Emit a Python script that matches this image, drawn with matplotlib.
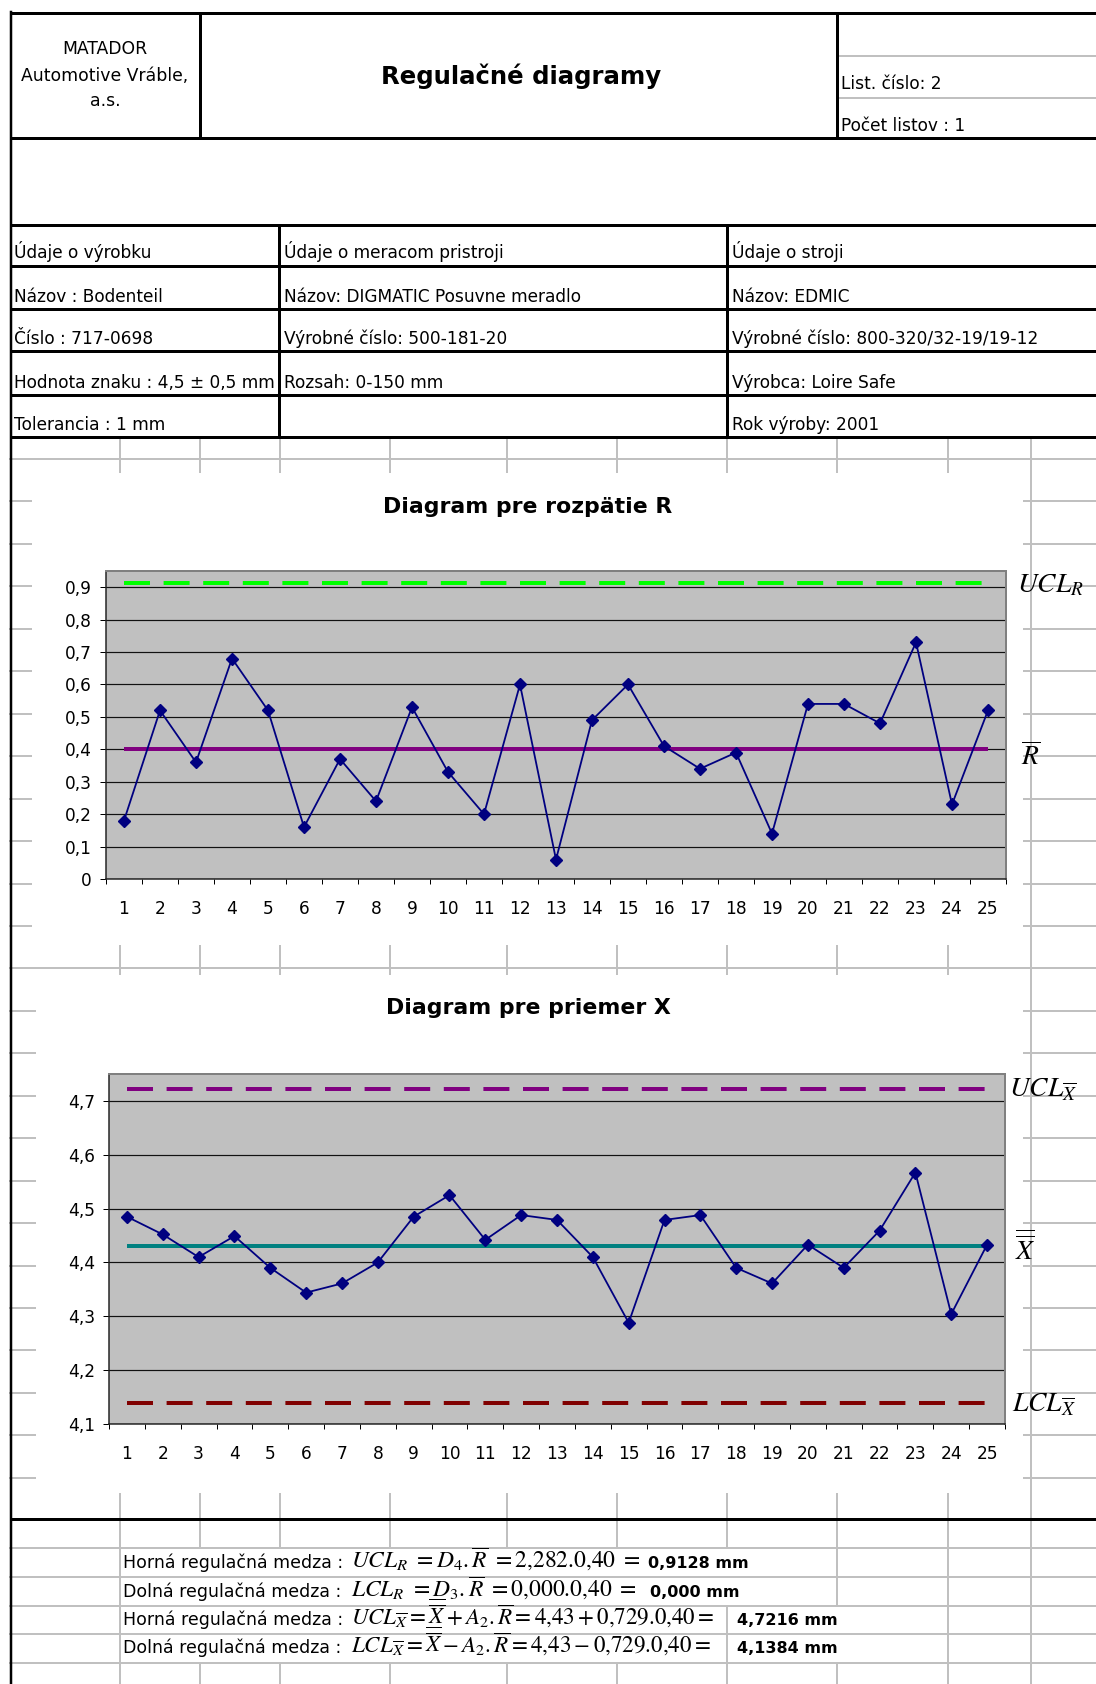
"""Control charts (R chart and X-bar chart) laid out like the Excel sheet."""

import matplotlib
matplotlib.use("Agg")
import matplotlib.pyplot as plt
import numpy as np
from matplotlib.patches import Rectangle

W, H = 1096, 1684
PT = 0.72  # points per pixel at 100 dpi

# ---- chart data -------------------------------------------------------------
SAMPLES = list(range(1, 26))
R_VALUES = [0.18, 0.52, 0.36, 0.68, 0.52, 0.16, 0.37, 0.24, 0.53, 0.33, 0.20, 0.60, 0.06,
            0.49, 0.60, 0.41, 0.34, 0.39, 0.14, 0.54, 0.54, 0.48, 0.73, 0.23, 0.52]
R_BAR, UCL_R = 0.40, 0.9128
X_VALUES = [4.485, 4.452, 4.410, 4.449, 4.390, 4.344, 4.361, 4.400, 4.485, 4.525, 4.442,
            4.488, 4.479, 4.410, 4.288, 4.479, 4.488, 4.390, 4.361, 4.433, 4.390, 4.459,
            4.567, 4.304, 4.433]
X_BARBAR, UCL_X, LCL_X = 4.43, 4.7216, 4.1384

R_TICKS = [0, 0.1, 0.2, 0.3, 0.4, 0.5, 0.6, 0.7, 0.8, 0.9]
R_TICK_LABELS = ["0", "0,1", "0,2", "0,3", "0,4", "0,5", "0,6", "0,7", "0,8", "0,9"]
X_TICKS = [4.1, 4.2, 4.3, 4.4, 4.5, 4.6, 4.7]
X_TICK_LABELS = ["4,1", "4,2", "4,3", "4,4", "4,5", "4,6", "4,7"]

# ---- sheet texts ------------------------------------------------------------
COMPANY = ["MATADOR", "Automotive Vráble,", "a.s."]
TITLE = "Regulačné diagramy"
SHEET = ["List. číslo: 2", "Počet listov : 1"]
TABLE = [
    ["Údaje o výrobku", "Údaje o meracom pristroji", "Údaje o stroji"],
    ["Názov : Bodenteil", "Názov: DIGMATIC Posuvne meradlo", "Názov: EDMIC"],
    ["Číslo : 717-0698", "Výrobné číslo: 500-181-20", "Výrobné číslo: 800-320/32-19/19-12"],
    ["Hodnota znaku : 4,5 ± 0,5 mm", "Rozsah: 0-150 mm", "Výrobca: Loire Safe"],
    ["Tolerancia : 1 mm", "", "Rok výroby: 2001"],
]
FORMULA_LABELS = ["Horná regulačná medza :", "Dolná regulačná medza :",
                  "Horná regulačná medza :", "Dolná regulačná medza :"]
FORMULAS = [
    r"$UCL_R\ =D_4.\overline{R}\ =2{,}282.0{,}40\ =$",
    r"$LCL_R\ =D_3.\overline{R}\ =0{,}000.0{,}40\ =$",
    r"$UCL_{\overline{X}}=\overline{\overline{X}}+A_2.\overline{R}=4{,}43+0{,}729.0{,}40=$",
    r"$LCL_{\overline{X}}=\overline{\overline{X}}-A_2.\overline{R}=4{,}43-0{,}729.0{,}40=$",
]
RESULTS = ["0,9128 mm", "0,000 mm", "4,7216 mm", "4,1384 mm"]

INK = "black"
GRID = "#c0c0c0"
NAVY = "#000080"

plt.rcParams.update({
    "font.family": "DejaVu Sans",
    "mathtext.fontset": "stix",
    "figure.facecolor": "white",
})

fig = plt.figure(figsize=(W / 100, H / 100), dpi=100)
bg = fig.add_axes([0, 0, 1, 1])
bg.set_xlim(0, W)
bg.set_ylim(H, 0)
bg.axis("off")

# ---- spreadsheet grid -------------------------------------------------------
COLS = [120, 200, 280, 390, 507, 617, 727, 837, 948, 1031]
rows = 459 + 42.45 * np.arange(25)
for y in rows:
    bg.plot([10, W], [y, y], color=GRID, lw=2 * PT, zorder=1)
for y in [1548, 1577, 1606, 1634, 1663]:
    bg.plot([10, W], [y, y], color=GRID, lw=2 * PT, zorder=1)
for x in COLS:
    bg.plot([x, x], [437, 1548], color=GRID, lw=2 * PT, zorder=1)
    bg.plot([x, x], [1663, H], color=GRID, lw=2 * PT, zorder=1)
    if x in (120, 837, 948, 1031):
        bg.plot([x, x], [1548, 1606], color=GRID, lw=2 * PT, zorder=1)
    if x in (120, 727, 948, 1031):
        bg.plot([x, x], [1606, 1663], color=GRID, lw=2 * PT, zorder=1)
for y in (56, 98):
    bg.plot([837, W], [y, y], color=GRID, lw=2 * PT, zorder=1)

# chart objects hide the grid behind them
bg.add_patch(Rectangle((32, 473), 991, 472, facecolor="white", edgecolor="none", zorder=2))
bg.add_patch(Rectangle((36, 975), 987, 518, facecolor="white", edgecolor="none", zorder=2))

# ---- table borders ----------------------------------------------------------
BLK = 3 * PT
for y in [13, 138, 225, 266, 309, 351, 395, 437, 1519]:
    bg.plot([10, W], [y, y], color=INK, lw=BLK, zorder=3, solid_capstyle="butt")
bg.plot([10.5, 10.5], [12, H], color=INK, lw=2.5 * PT, zorder=3)
for x in (200, 837):
    bg.plot([x, x], [13, 138], color=INK, lw=BLK, zorder=3)
for x in (279, 727):
    bg.plot([x, x], [225, 437], color=INK, lw=BLK, zorder=3)

# ---- header and table texts -------------------------------------------------
for txt, yb in zip(COMPANY, [54, 81, 106]):
    bg.text(105, yb, txt, ha="center", va="baseline", fontsize=17.2 * PT, zorder=4)
bg.text(521, 84, TITLE, ha="center", va="baseline", fontsize=24.4 * PT,
        fontweight="bold", zorder=4)
for txt, yb in zip(SHEET, [89, 131]):
    bg.text(841, yb, txt, ha="left", va="baseline", fontsize=17 * PT, zorder=4)

row_bottoms = [266, 309, 351, 395, 437]
col_starts = [14, 284, 732]
for row, yb in zip(TABLE, row_bottoms):
    for txt, x in zip(row, col_starts):
        bg.text(x, yb - 7.5, txt, ha="left", va="baseline", fontsize=17 * PT, zorder=4)

# ---- formulas ---------------------------------------------------------------
f_base = [1568, 1597, 1625, 1653]
res_x = [648, 650, 737, 737]
f_size = [23.5, 23.5, 23, 23]
for lab, f, res, yb, rx, fs in zip(FORMULA_LABELS, FORMULAS, RESULTS, f_base, res_x, f_size):
    bg.text(123, yb, lab, ha="left", va="baseline", fontsize=17.4 * PT, zorder=4)
    bg.text(351, yb, f, ha="left", va="baseline", fontsize=fs * PT, zorder=4)
    bg.text(rx, yb, res, ha="left", va="baseline", fontsize=16 * PT,
            fontweight="bold", zorder=4)


# ---- charts -----------------------------------------------------------------
def chart(box, values, ylim, ticks, labels, limits):
    x0, y0, x1, y1 = box
    ax = fig.add_axes([x0 / W, 1 - y1 / H, (x1 - x0) / W, (y1 - y0) / H])
    ax.set_facecolor("#c0c0c0")
    ax.set_xlim(0.5, 25.5)
    ax.set_ylim(*ylim)
    ax.set_yticks(ticks)
    ax.set_yticklabels(labels)
    ax.set_xticks(np.arange(0.5, 26, 1))
    ax.set_xticklabels([])
    ax.set_xticks(SAMPLES, minor=True)
    ax.set_xticklabels([str(s) for s in SAMPLES], minor=True)
    ax.tick_params(axis="x", which="major", length=5 * PT, width=1 * PT, color=INK)
    ax.tick_params(axis="x", which="minor", length=0, pad=21 * PT, labelsize=17 * PT)
    ax.tick_params(axis="y", length=6 * PT, width=1 * PT, pad=8 * PT, labelsize=17 * PT)
    ax.yaxis.grid(True, color="#111111", lw=1.2 * PT)
    ax.set_axisbelow(True)
    for side in ("top", "right"):
        ax.spines[side].set_color("#808080")
        ax.spines[side].set_linewidth(2 * PT)
    for side in ("left", "bottom"):
        ax.spines[side].set_color("#222222")
        ax.spines[side].set_linewidth(1.5 * PT)
    for val, color, dashed in limits:
        ls = (0, (6.5, 3.4)) if dashed else "-"
        ax.plot([SAMPLES[0], SAMPLES[-1]], [val, val], color=color, lw=4 * PT,
                linestyle=ls, solid_capstyle="butt", dash_capstyle="butt", zorder=2)
    ax.plot(SAMPLES, values, color=NAVY, lw=1.8 * PT, marker="D", ms=8.5 * PT,
            mfc=NAVY, mec=NAVY, zorder=3)
    return ax


chart((106, 571, 1006, 879), R_VALUES, (0, 0.95), R_TICKS, R_TICK_LABELS,
      [(UCL_R, "#00ff00", True), (R_BAR, "#800080", False)])
chart((109, 1074, 1005, 1424), X_VALUES, (4.1, 4.75), X_TICKS, X_TICK_LABELS,
      [(UCL_X, "#800080", True), (LCL_X, "#800000", True), (X_BARBAR, "#008080", False)])

bg.text(528, 513, "Diagram pre rozpätie R", ha="center", va="baseline",
        fontsize=22 * PT, fontweight="bold", zorder=4)
bg.text(528, 1014, "Diagram pre priemer X", ha="center", va="baseline",
        fontsize=22 * PT, fontweight="bold", zorder=4)

LAB = 27.5 * PT
bg.text(1017, 592, r"$UCL_R$", ha="left", va="baseline", fontsize=LAB, zorder=4)
bg.text(1021, 765, r"$\overline{R}$", ha="left", va="baseline", fontsize=LAB, zorder=4)
bg.text(1009, 1097, r"$UCL_{\overline{X}}$", ha="left", va="baseline", fontsize=LAB, zorder=4)
bg.text(1015, 1260, r"$\overline{\overline{X}}$", ha="left", va="baseline", fontsize=LAB,
        zorder=4)
bg.text(1012, 1412, r"$LCL_{\overline{X}}$", ha="left", va="baseline", fontsize=LAB, zorder=4)

fig.savefig("out.png", dpi=100, facecolor="white")
